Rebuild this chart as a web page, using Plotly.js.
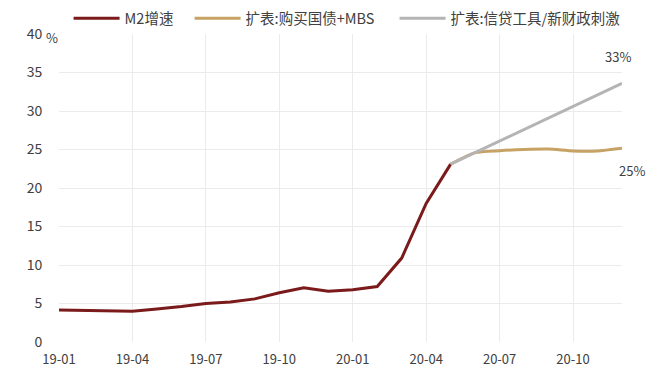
<!DOCTYPE html>
<html><head><meta charset="utf-8">
<script src="https://cdn.plot.ly/plotly-3.0.1.min.js"></script>
<style>html,body{margin:0;padding:0;background:#fff}#c{width:672px;height:383px}</style>
</head><body><div id="c"></div>
<script>
const months = ['19-01','19-02','19-03','19-04','19-05','19-06','19-07','19-08','19-09','19-10','19-11','19-12',
                '20-01','20-02','20-03','20-04','20-05','20-06','20-07','20-08','20-09','20-10','20-11','20-12'];
const m2 = [4.15,4.1,4.0,4.0,4.3,4.6,5.0,5.2,5.6,6.4,7.05,6.6,6.8,7.2,10.9,18.0,23.1];
const extBond = [23.1,24.6,24.85,25.0,25.05,24.8,24.8,25.15];
const extCredit = [23.1,24.6,26.1,27.6,29.1,30.6,32.1,33.6];
const tickLabels = ['19-01','19-04','19-07','19-10','20-01','20-04','20-07','20-10'];
const names = ['M2增速','扩表:购买国债+MBS','扩表:信贷工具/新财政刺激'];
const colors = ['#7B1A1A','#C6A264','#B4B4B4'];

const idx = m => months.indexOf(m);
const xM2 = m2.map((_, i) => i);
const xExt = extBond.map((_, i) => i + idx('20-05'));
const traces = [
  {x: xM2, y: m2, name: names[0], legend: 'legend', mode: 'lines', line: {color: colors[0], width: 3}},
  {x: xExt, y: extBond, name: names[1], legend: 'legend2', mode: 'lines', line: {color: colors[1], width: 3, shape: 'spline', smoothing: 0.6}},
  {x: xExt, y: extCredit, name: names[2], legend: 'legend3', mode: 'lines', line: {color: colors[2], width: 3}}
];
const font = 'Microsoft YaHei, "Noto Sans CJK SC", sans-serif';
const lg = x => ({orientation: 'h', x: x, xanchor: 'left', y: 1.051, yanchor: 'middle', bgcolor: 'rgba(0,0,0,0)',
                  font: {size: 14.5, color: '#404040'}, borderwidth: 0, itemwidth: 46});
const layout = {
  width: 672, height: 383,
  margin: {l: 59, r: 50, t: 34, b: 41, autoexpand: false},
  paper_bgcolor: '#fff', plot_bgcolor: '#fff',
  font: {family: font, size: 13, color: '#404040'},
  showlegend: true,
  legend: lg(0.017), legend2: lg(0.232), legend3: lg(0.596),
  xaxis: {range: [0, 23], tickvals: tickLabels.map(idx), ticktext: tickLabels, automargin: false,
          showgrid: true, gridcolor: '#EBEBEB', gridwidth: 1, zeroline: false,
          showline: false, ticks: 'outside', ticklen: 5, tickcolor: 'rgba(0,0,0,0)',
          tickfont: {size: 13, color: '#404040'}},
  yaxis: {range: [0, 40], dtick: 5, showgrid: true, gridcolor: '#EBEBEB', gridwidth: 1, automargin: false,
          zeroline: false, showline: false, ticks: 'outside', ticklen: 13, tickcolor: 'rgba(0,0,0,0)',
          tickfont: {size: 14, color: '#404040'}},
  annotations: [
    {x: 0, xref: 'paper', y: 1, yref: 'paper', text: '%', showarrow: false, xanchor: 'right', yanchor: 'middle', xshift: 1, yshift: -3, font: {size: 13, color: '#404040'}},
    {x: 23, y: 33.6, text: '33%', showarrow: false, xanchor: 'center', yshift: 27, xshift: -4, font: {size: 13, color: '#404040'}},
    {x: 23, y: 25.15, text: '25%', showarrow: false, xanchor: 'center', yshift: -22, xshift: 10, font: {size: 13, color: '#404040'}}
  ]
};
Plotly.newPlot('c', traces, layout, {displayModeBar: false, staticPlot: true});
</script></body></html>
